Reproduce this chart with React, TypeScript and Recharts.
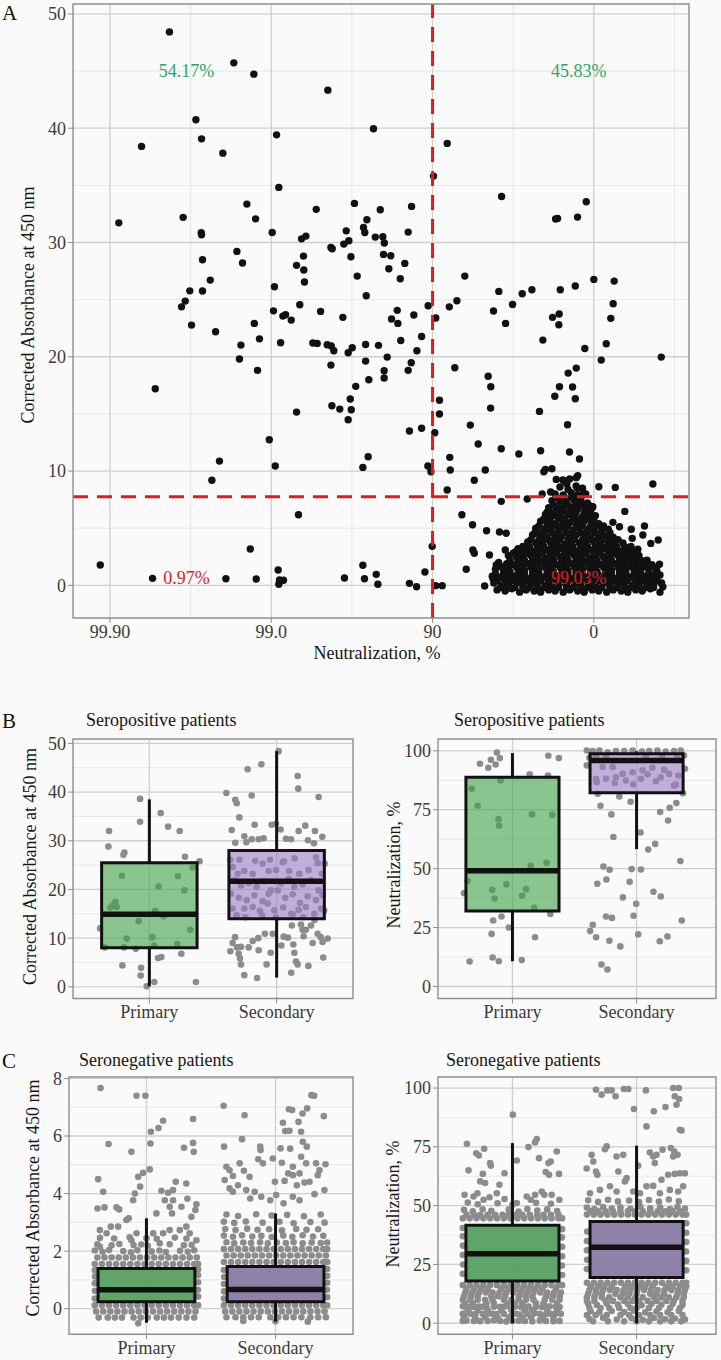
import React from 'react';
import {
  ScatterChart,
  Scatter,
  XAxis,
  YAxis,
  CartesianGrid,
  ReferenceLine,
  ReferenceArea,
  ReferenceDot,
} from 'recharts';

const FONT = "Liberation Serif, DejaVu Serif, serif";
const BG = '#fafafa';
const MAJOR = '#cfcfcf';
const MINOR = '#e2e2e2';
const FRAME = '#8e8e8e';
const TICK_COLOR = '#3a3a3a';
const INK = '#111111';
const GREY_PT = '#8c8c8c';
const CUT_RED = '#e41a1c';
const TXT_GREEN = '#2ba664';
const TXT_RED = '#e41a1c';

// ---------------- Panel A: x = log10(100 - neutralization %), y = corrected absorbance ----------------
const aXTicks = [-1, 0, 1, 2];
const aXTickLabels = ['99.90', '99.0', '90', '0'];
const aXMinor = [-0.5, 0.5, 1.5, 2.5];
const aYTicks = [0, 10, 20, 30, 40, 50];
const aYMinor = [5, 15, 25, 35, 45];
const aXDomain = [-1.229, 2.59];
const aYDomain = [-2.86, 50.87];
const aCutX = 1; // 90 % neutralization
const aCutY = 7.75;
const aQuadrantLabels = ['54.17%', '45.83%', '0.97%', '99.03%'];

const aScattered = [
  -0.631, 48.43, -0.232, 45.72, -0.108, 44.73, 0.351, 43.33, -0.467, 40.74, -0.804, 38.41, -0.432, 39.07,
  -0.3, 37.82, 0.033, 39.42, 0.047, 34.82, -0.945, 31.72, -0.546, 32.2, -0.151, 33.36, -0.097, 32.07,
  -0.434, 30.85, -0.432, 30.67, 0.006, 30.88, 0.279, 32.9, 0.516, 33.42, 0.188, 30.32, 0.215, 30.56,
  0.465, 31.02, 0.481, 30.15, 0.45, 29.86, 0.37, 29.57, 0.378, 29.45, -0.213, 29.22, -0.426, 28.49,
  -0.178, 28.2, 0.2, 28.81, 0.157, 28.0, 0.202, 27.59, 0.494, 28.75, 0.533, 27.06, -0.378, 26.71,
  0.206, 26.54, 0.02, 26.13, -0.505, 25.77, -0.426, 25.75, -0.533, 24.87, -0.556, 24.37, 0.177, 24.55,
  0.014, 24.02, 0.306, 23.97, 0.444, 23.45, 0.072, 23.56, 0.089, 23.68, 0.124, 23.21,
  -0.494, 22.77, -0.345, 22.19, -0.105, 22.92, -0.188, 21.02, -0.073, 21.57, 0.058, 21.23, 0.258, 21.2,
  0.285, 21.17, 0.347, 21.05, 0.372, 20.94, 0.388, 20.53, 0.477, 20.35, 0.502, 20.79, -0.197, 19.8,
  -0.085, 18.81, 0.37, 19.27, -0.719, 17.2, 0.524, 17.41, 0.157, 15.16, 0.376, 15.71, 0.425, 15.42,
  0.49, 16.3, 0.496, 15.36, 0.477, 14.49, -0.012, 12.74, 0.025, 10.44, -0.321, 10.87, -0.368, 9.19,
  0.169, 6.18, -0.13, 3.18, -1.06, 1.78, -0.736, 0.61, -0.281, 0.58, -0.093, 0.55, 0.043, 1.34,
  0.047, 0.09, 0.076, 0.44, 0.051, 0.46, 0.454, 0.64,
  0.634, 39.95, 1.091, 38.67, 1.006, 35.81, 1.428, 34.03, 1.953, 33.56, 1.763, 32.05, 1.775, 32.11,
  1.899, 32.22, 0.676, 32.86, 0.87, 33.16, 0.593, 31.99, 0.572, 31.32, 0.58, 30.88, 0.645, 30.47,
  0.692, 30.5, 0.701, 29.95, 0.849, 30.91, 0.696, 28.96, 0.741, 28.84, 0.828, 28.17, 0.729, 27.7,
  0.8, 26.83, 1.2, 27.06, 0.589, 25.34, 1.411, 25.72, 1.556, 25.51, 1.616, 25.86, 1.792, 25.86,
  1.885, 26.19, 2.0, 26.77, 2.126, 26.62, 2.12, 24.64, 1.151, 24.9, 1.104, 24.37, 0.973, 24.46,
  1.496, 24.58, 0.781, 24.06, 1.378, 24.0, 0.884, 23.65, 0.746, 23.3, 1.02, 23.39, 1.744, 23.45,
  1.785, 23.74, 2.105, 23.36,
  0.785, 22.92, 1.453, 22.92, 1.783, 22.8, 1.684, 21.46, 0.585, 21.08, 0.665, 21.0, 0.803, 21.43,
  0.932, 21.78, 0.719, 19.97, 0.903, 20.52, 0.585, 19.62, 0.868, 19.47, 0.7, 18.77, 0.7, 18.14,
  0.605, 17.99, 0.849, 18.81, 1.944, 20.73, 2.077, 21.14, 2.046, 19.71, 2.418, 19.97, 1.138, 19.04,
  1.891, 19.01, 1.841, 18.57, 1.787, 17.38, 1.868, 17.35, 1.758, 16.54, 1.885, 16.33, 1.043, 16.19,
  1.043, 14.99, 1.345, 18.29, 1.361, 17.38, 1.36, 15.51, 1.663, 15.22, 1.837, 14.05, 1.234, 14.02,
  1.014, 13.35, 0.932, 13.74, 0.857, 13.5, 1.283, 12.36, 1.426, 11.95, 1.535, 11.49, 1.67, 11.78,
  1.849, 11.66, 1.911, 11.05, 0.601, 11.25, 0.568, 10.32, 0.971, 10.44, 0.99, 9.94, 1.107, 11.2,
  1.11, 10.09, 1.327, 10.09, 1.259, 9.19, 1.091, 8.34, 1.426, 7.35, 1.587, 7.55, 1.182, 6.18,
  1.248, 5.3, 1.335, 4.78, 1.415, 4.66, 1.457, 4.55, 0.998, 3.41, 0.568, 1.75, 0.578, 0.58,
  0.651, 0.96, 0.661, 0.09, 0.953, 1.16, 0.857, 0.17, 0.901, -0.12, 1.019, -0.03, 1.06, -0.03,
  1.209, 1.4, 1.259, 2.8, 1.25, 3.09, 1.323, -0.06, 2.031, 8.63, 2.133, 8.57, 2.366, 8.86,
  2.192, 6.47, 2.399, 3.96, 2.353, 3.67, 2.314, 5.19, 2.304, 4.4,
];

const aCluster = [
  1.4, -0.4, 1.45, -0.5, 1.49, -0.3, 1.54, -0.6, 1.58, -0.4, 1.63, -0.5, 1.67, -0.6, 1.72, -0.4, 1.76, -0.5,
  1.81, -0.6, 1.85, -0.4, 1.9, -0.5, 1.94, -0.6, 1.99, -0.4, 2.03, -0.5, 2.08, -0.6, 2.12, -0.4, 2.17, -0.5,
  2.21, -0.6, 2.26, -0.4, 2.3, -0.5, 2.35, -0.3, 2.41, -0.6,
  1.38, 0.2, 1.43, 0.0, 1.47, 0.1, 1.52, 0.2, 1.56, 0.0, 1.61, 0.1, 1.65, 0.2, 1.7, 0.0, 1.74, 0.1, 1.79, 0.2,
  1.83, 0.0, 1.88, 0.1, 1.92, 0.2, 1.97, 0.0, 2.01, 0.1, 2.06, 0.2, 2.1, 0.0, 2.15, 0.1, 2.19, 0.2, 2.24, 0.0,
  2.28, 0.1, 2.33, 0.2, 2.37, 0.0, 2.42, 0.2,
  1.37, 0.8, 1.42, 0.7, 1.46, 0.6, 1.51, 0.8, 1.55, 0.7, 1.6, 0.6, 1.64, 0.8, 1.69, 0.7, 1.73, 0.6, 1.78, 0.8,
  1.82, 0.7, 1.87, 0.6, 1.91, 0.8, 1.96, 0.7, 2.0, 0.6, 2.05, 0.8, 2.09, 0.7, 2.14, 0.6, 2.18, 0.8, 2.23, 0.7,
  2.27, 0.6, 2.32, 0.8, 2.36, 0.7, 2.41, 0.9,
  1.39, 1.4, 1.44, 1.3, 1.48, 1.2, 1.53, 1.4, 1.57, 1.3, 1.62, 1.2, 1.66, 1.4, 1.71, 1.3, 1.75, 1.2, 1.8, 1.4,
  1.84, 1.3, 1.89, 1.2, 1.93, 1.4, 1.98, 1.3, 2.02, 1.2, 2.07, 1.4, 2.11, 1.3, 2.16, 1.2, 2.2, 1.4, 2.25, 1.3,
  2.29, 1.2, 2.34, 1.4, 2.39, 1.3,
  1.41, 2.0, 1.46, 1.9, 1.5, 1.8, 1.55, 2.0, 1.59, 1.9, 1.64, 1.8, 1.68, 2.0, 1.73, 1.9, 1.77, 1.8, 1.82, 2.0,
  1.86, 1.9, 1.91, 1.8, 1.95, 2.0, 2.0, 1.9, 2.04, 1.8, 2.09, 2.0, 2.13, 1.9, 2.18, 1.8, 2.22, 2.0, 2.27, 1.9,
  2.31, 2.1, 2.36, 1.8,
  1.47, 2.6, 1.52, 2.5, 1.56, 2.4, 1.61, 2.6, 1.65, 2.5, 1.7, 2.4, 1.74, 2.6, 1.79, 2.5, 1.83, 2.4, 1.88, 2.6,
  1.92, 2.5, 1.97, 2.4, 2.01, 2.6, 2.06, 2.5, 2.1, 2.4, 2.15, 2.6, 2.19, 2.5, 2.24, 2.4, 2.28, 2.6,
  1.53, 3.2, 1.58, 3.1, 1.62, 3.0, 1.67, 3.2, 1.71, 3.1, 1.76, 3.0, 1.8, 3.2, 1.85, 3.1, 1.89, 3.0, 1.94, 3.2,
  1.98, 3.1, 2.03, 3.0, 2.07, 3.2, 2.12, 3.1, 2.16, 3.0, 2.21, 3.2, 2.25, 3.0,
  1.59, 3.8, 1.64, 3.7, 1.68, 3.6, 1.73, 3.8, 1.77, 3.7, 1.82, 3.6, 1.86, 3.8, 1.91, 3.7, 1.95, 3.6, 2.0, 3.8,
  2.04, 3.7, 2.09, 3.6, 2.13, 3.8, 2.18, 3.7,
  1.62, 4.4, 1.67, 4.3, 1.71, 4.2, 1.76, 4.4, 1.8, 4.3, 1.85, 4.2, 1.89, 4.4, 1.94, 4.3, 1.98, 4.2, 2.03, 4.4,
  2.07, 4.3, 2.12, 4.2,
  1.64, 5.0, 1.69, 4.9, 1.73, 4.8, 1.78, 5.0, 1.82, 4.9, 1.87, 4.8, 1.91, 5.0, 1.96, 4.9, 2.0, 4.8, 2.05, 5.0,
  2.09, 4.9,
  1.67, 5.6, 1.72, 5.5, 1.76, 5.4, 1.81, 5.6, 1.85, 5.5, 1.9, 5.4, 1.94, 5.6, 1.99, 5.5, 2.03, 5.4,
  1.7, 6.2, 1.75, 6.1, 1.79, 6.0, 1.84, 6.2, 1.88, 6.1, 1.93, 6.0, 1.97, 6.2, 2.01, 6.1,
  1.72, 6.8, 1.77, 6.7, 1.81, 6.6, 1.86, 6.8, 1.9, 6.7, 1.95, 6.6, 1.99, 6.8,
  1.74, 7.4, 1.79, 7.3, 1.83, 7.2, 1.88, 7.4, 1.92, 7.3, 1.96, 7.2,
  1.76, 8.0, 1.81, 7.9, 1.86, 8.1, 1.9, 7.9, 1.95, 8.0,
  1.79, 8.6, 1.84, 8.4, 1.89, 8.7, 1.93, 8.5, 1.85, 9.3, 1.9, 9.6, 1.82, 9.1,
  1.68, 7.99, 1.732, 8.16, 1.767, 9.27, 1.808, 9.21, 1.833, 8.86, 1.891, 9.42, 1.899, 8.49, 1.936, 8.05,
  1.994, 6.88, 2.118, 5.51, 2.159, 5.13, 2.232, 4.9, 2.238, 4.11, 2.087, 4.11, 2.273, 3.15, 2.232, 2.45,
  2.304, 1.63, 2.366, 0.75, 2.418, 0.17, 2.407, 1.84, 2.428, -0.12, 1.353, 2.65, 1.395, 1.78, 1.374, 0.61,
  1.451, 3.09, 1.515, 2.94, 1.56, 2.5, 1.632, 4.55, 1.694, 5.71, 1.746, 6.3, 1.69, 9.94, 1.7, 10.15, 1.74, 10.2,
];
// densely overlapping core of the cluster, one row per absorbance level: [absorbance, x1, x2, ...]
const aClusterCoreRows = [
  [-0.2, 1.42, 1.47, 1.51, 1.56, 1.6, 1.65, 1.69, 1.74, 1.78, 1.83, 1.87, 1.92, 1.96, 2.01, 2.05, 2.1, 2.14, 2.19, 2.23, 2.28, 2.32, 2.37],
  [0.4, 1.4, 1.45, 1.49, 1.54, 1.58, 1.63, 1.67, 1.72, 1.76, 1.81, 1.85, 1.9, 1.94, 1.99, 2.03, 2.08, 2.12, 2.17, 2.21, 2.26, 2.3, 2.35, 2.39],
  [1.0, 1.39, 1.44, 1.48, 1.53, 1.57, 1.62, 1.66, 1.71, 1.75, 1.8, 1.84, 1.89, 1.93, 1.98, 2.02, 2.07, 2.11, 2.16, 2.2, 2.25, 2.29, 2.34, 2.38],
  [1.6, 1.43, 1.47, 1.52, 1.56, 1.61, 1.65, 1.7, 1.74, 1.79, 1.83, 1.88, 1.92, 1.97, 2.01, 2.06, 2.1, 2.15, 2.19, 2.24, 2.28, 2.33, 2.37],
  [2.2, 1.48, 1.53, 1.57, 1.62, 1.66, 1.71, 1.75, 1.8, 1.84, 1.89, 1.93, 1.98, 2.02, 2.07, 2.11, 2.16, 2.2, 2.25, 2.29, 2.33],
  [2.8, 1.5, 1.55, 1.59, 1.64, 1.68, 1.73, 1.77, 1.82, 1.86, 1.91, 1.95, 2.0, 2.04, 2.09, 2.13, 2.18, 2.22, 2.27],
  [3.4, 1.56, 1.6, 1.65, 1.69, 1.74, 1.78, 1.83, 1.87, 1.92, 1.96, 2.01, 2.05, 2.1, 2.14, 2.19, 2.23],
  [4.0, 1.61, 1.66, 1.7, 1.75, 1.79, 1.84, 1.88, 1.93, 1.97, 2.02, 2.06, 2.11, 2.15],
  [4.6, 1.65, 1.69, 1.74, 1.78, 1.83, 1.87, 1.92, 1.96, 2.01, 2.05, 2.1],
  [5.2, 1.66, 1.71, 1.75, 1.8, 1.84, 1.89, 1.93, 1.98, 2.02, 2.06],
  [5.8, 1.69, 1.73, 1.78, 1.82, 1.87, 1.91, 1.96, 2.0],
  [6.4, 1.71, 1.76, 1.8, 1.85, 1.89, 1.94, 1.98],
  [7.0, 1.75, 1.8, 1.84, 1.89, 1.93, 1.97],
  [7.6, 1.78, 1.83, 1.87, 1.92],
];

// ---------------- Panels B and C: x = group (1 Primary, 2 Secondary, jittered) ----------------
const groups = ['Primary', 'Secondary'];
const groupPos = [1, 2];

// B left: seropositive, corrected absorbance
const bAbsTicks = [0, 10, 20, 30, 40, 50];
const bAbsMinor = [5, 15, 25, 35, 45];
const bAbsPrimary = [
  0.927, 38.6, 0.683, 32.0, 0.678, 28.8, 0.804, 27.6, 0.796, 27.1, 0.927, 33.9, 1.089, 35.7, 1.147, 32.9,
  1.238, 32.0, 1.28, 26.7, 1.395, 25.8, 1.34, 24.5, 0.785, 22.8, 1.225, 22.7, 1.073, 20.6, 1.275, 19.8,
  0.733, 17.4, 0.712, 16.7, 0.743, 16.4, 0.694, 16.3, 1.045, 15.6, 1.113, 14.5, 0.916, 13.5, 0.613, 12.0,
  1.322, 11.7, 0.822, 9.9, 1.024, 10.2, 1.037, 8.5, 1.22, 8.8, 0.649, 8.1, 0.801, 8.1, 0.893, 7.8,
  1.251, 6.8, 1.068, 5.9, 1.094, 6.1, 0.788, 4.4, 0.935, 3.9, 0.932, 2.3, 1.039, 1.0, 0.979, 0.1, 1.366, 1.0,
];
const bAbsSecondary = [
  2.016, 48.4, 1.88, 45.7, 1.772, 44.7, 2.165, 43.3, 2.17, 40.7, 1.605, 39.8, 1.675, 38.4, 1.686, 37.7,
  1.804, 39.3, 2.33, 39.0, 1.707, 34.8, 1.827, 33.3, 1.961, 33.3, 1.995, 33.5, 2.225, 33.1, 1.647, 32.2,
  2.031, 32.3, 2.173, 32.0, 2.301, 32.0, 1.746, 30.9, 1.804, 30.3, 1.859, 30.3, 1.898, 30.5, 2.113, 30.3,
  2.073, 30.4, 2.359, 30.8, 1.675, 29.6, 1.762, 29.7, 2.246, 30.1, 2.293, 29.5, 1.636, 26.1, 1.707, 26.1,
  1.832, 25.9, 1.948, 26.1, 2.058, 25.8, 2.141, 26.4, 2.309, 26.6, 2.377, 25.3,
  1.654, 24.6, 1.694, 23.2, 1.746, 23.8, 1.812, 23.2, 1.89, 25.3, 1.937, 23.8, 1.995, 24.0, 2.047, 25.6,
  2.099, 23.8, 2.178, 23.2, 2.251, 24.0, 2.322, 25.4, 2.356, 23.2, 1.668, 21.9, 1.72, 20.8, 1.78, 21.3,
  1.843, 20.5, 1.903, 21.7, 1.955, 19.8, 2.034, 21.2, 2.094, 22.2, 2.139, 20.5, 2.204, 21.0, 2.27, 21.9,
  2.33, 19.8, 1.641, 19.1, 1.702, 18.3, 1.764, 17.8, 1.825, 18.8, 1.89, 17.6, 1.937, 19.1, 2.01, 19.8,
  2.068, 18.3, 2.126, 19.0, 2.183, 17.2, 2.243, 18.6, 2.309, 17.8, 2.361, 18.8, 1.654, 16.1, 1.746, 16.1,
  1.812, 16.4, 1.869, 15.6, 1.929, 17.1, 1.982, 15.7, 2.052, 16.3, 2.115, 15.0, 2.173, 15.8, 2.23, 16.4,
  2.296, 15.0, 2.348, 16.1, 1.686, 14.7, 1.754, 14.3, 1.885, 14.7, 1.995, 14.3, 2.126, 14.9, 2.209, 14.3,
  2.374, 15.7,
  1.673, 10.2, 1.654, 9.0, 1.636, 7.3, 1.688, 8.1, 1.72, 8.2, 1.702, 6.8, 1.712, 5.8, 1.72, 4.6, 1.746, 2.4,
  1.78, 8.1, 1.812, 9.4, 1.856, 10.0, 1.859, 7.5, 1.908, 10.9, 1.921, 4.6, 1.953, 7.0, 1.969, 10.9,
  2.037, 8.5, 2.055, 10.3, 2.089, 10.1, 2.12, 12.6, 2.131, 8.7, 2.139, 7.0, 2.152, 5.2, 2.165, 4.6,
  2.191, 12.8, 2.204, 11.7, 2.212, 10.4, 2.23, 11.7, 2.249, 4.3, 2.27, 12.6, 2.298, 13.7, 2.283, 9.0,
  2.322, 10.9, 2.361, 9.2, 2.366, 6.0, 2.401, 9.9, 2.115, 2.9, 1.846, 1.8, 2.346, 10.2,
];
// [min, q1, median, q3, max]
const bAbsPrimaryBox = [0.1, 8.0, 14.9, 25.5, 38.5];
const bAbsSecondaryBox = [1.9, 14.0, 21.7, 28.0, 48.4];

// B right: seropositive, neutralization %
const pctTicks = [0, 25, 50, 75, 100];
const pctMinor = [12.5, 37.5, 62.5, 87.5];
const bNeuPrimary = [
  0.874, 99.3, 0.826, 96.2, 0.898, 96.9, 0.864, 94.2, 0.738, 94.5, 0.805, 92.8, 1.289, 97.9, 1.374, 96.9,
  1.139, 90.0, 1.286, 89.5, 0.904, 87.4, 0.671, 83.9, 0.719, 76.7, 0.888, 71.0, 0.893, 68.2, 1.158, 73.0,
  1.321, 72.8, 1.147, 51.2, 1.275, 52.5, 0.639, 44.7, 0.61, 39.6, 0.837, 41.0, 0.856, 37.3, 0.952, 43.3,
  1.11, 41.3, 1.078, 38.5, 1.174, 33.4, 1.305, 30.8, 0.912, 29.7, 0.845, 28.0, 0.971, 25.0, 0.832, 22.3,
  1.182, 20.9, 0.84, 12.3, 0.89, 10.7, 1.075, 11.2, 0.655, 10.6,
];
const bNeuSecondary = [
  1.599, 100.1, 1.647, 99.9, 1.701, 100.1, 1.767, 99.4, 1.834, 99.9, 1.901, 99.9, 1.968, 100.1, 2.043, 99.7,
  2.102, 99.9, 2.168, 100.1, 2.235, 99.7, 2.302, 99.9, 2.356, 100.1, 2.382, 98.0, 1.62, 97.0, 1.674, 98.0,
  1.754, 97.3, 2.075, 97.6, 2.206, 97.3, 2.326, 97.6, 1.599, 93.8, 2.39, 92.4,
  1.674, 88.1, 1.727, 93.1, 1.807, 93.1, 1.834, 88.8, 1.888, 90.2, 1.968, 90.9, 2.048, 91.7, 2.128, 92.8,
  2.195, 88.8, 2.262, 90.2, 2.337, 89.5, 2.302, 85.3, 1.679, 86.7, 1.914, 87.4, 2.035, 88.1, 2.155, 87.1,
  1.754, 88.1, 2.088, 90.0, 2.222, 91.9, 1.824, 86.3, 1.973, 85.7, 2.316, 85.7,
  1.687, 81.8, 1.861, 80.6, 2.374, 82.0, 1.709, 76.7, 1.797, 73.0, 1.813, 63.4, 1.952, 78.4, 2.032, 65.3,
  2.267, 75.8, 2.19, 74.0, 2.321, 77.8, 2.254, 70.4, 2.15, 60.5, 2.094, 58.1, 2.353, 53.2, 1.733, 50.9,
  1.783, 49.5, 1.96, 49.8, 2.035, 49.6, 1.757, 45.4, 1.684, 43.6, 1.944, 44.4, 2.136, 40.2, 2.195, 38.2,
  1.89, 37.8, 1.997, 35.1, 1.754, 29.7, 1.802, 29.1, 1.976, 30.0, 2.364, 28.0, 1.647, 26.2, 1.626, 23.5,
  1.674, 20.9, 1.781, 19.4, 1.869, 17.0, 2.013, 22.1, 2.187, 19.2, 2.249, 21.2, 1.717, 9.3, 1.765, 7.2,
];
const bNeuPrimaryBox = [10.7, 32.0, 49.1, 88.8, 99.0];
const bNeuSecondaryBox = [58.3, 82.2, 95.9, 98.7, 99.8];

// C left: seronegative, corrected absorbance
const cAbsTicks = [0, 2, 4, 6, 8];
const cAbsMinor = [1, 3, 5, 7];
const cAbsPrimary = [
  0.644, 7.67, 0.923, 7.4, 0.992, 7.4, 0.706, 5.72, 1.034, 6.15, 1.031, 5.74, 0.884, 5.45, 1.093, 6.28,
  1.129, 6.53, 1.361, 6.59, 1.291, 5.59, 1.361, 5.76, 1.366, 5.45, 0.626, 4.5, 0.665, 4.06, 0.621, 3.48,
  0.675, 3.52, 0.768, 3.52, 0.789, 3.45, 0.863, 3.14, 0.897, 3.77, 0.91, 4.0, 0.951, 4.24, 0.936, 4.58,
  0.974, 4.72, 1.026, 4.84, 1.116, 4.1, 1.142, 3.77, 1.168, 4.03, 1.206, 4.12, 1.227, 4.41, 1.206, 3.77,
  1.18, 3.54, 1.309, 4.35, 1.317, 3.82, 1.387, 3.63, 1.379, 3.43, 1.348, 3.19, 1.077, 3.31, 1.271, 3.54,
  1.198, 3.31, 0.724, 2.85, 0.781, 2.85, 0.639, 2.73, 0.691, 2.62, 1.18, 2.73, 1.258, 2.73, 1.309, 2.85,
  1.335, 2.62, 1.387, 2.38, 1.129, 2.62, 1.052, 2.62, 0.845, 3.08, 0.923, 2.62, 0.639, 2.15, 0.884, 2.38,
  1.103, 2.27,
  0.6, 2.02, 0.66, 1.98, 0.71, 2.04, 0.82, 2.0, 0.88, 1.96, 0.93, 2.03, 1.04, 1.99, 1.1, 2.02, 1.15, 1.97,
  1.26, 2.01, 1.32, 1.98, 1.37, 2.03, 0.62, 2.24, 0.73, 2.2, 0.79, 2.25, 0.9, 2.21, 0.96, 2.23, 1.01, 2.19,
  1.18, 2.24, 1.29, 2.2, 1.35, 2.22, 0.64, 2.46, 0.75, 2.44, 0.87, 2.48, 1.0, 2.45, 1.08, 2.43, 1.22, 2.47,
  1.31, 2.44, 0.936, -0.51, 0.6, 0.35, 0.601, 0.62, 0.6, 0.88, 0.602, 1.12, 0.6, 1.33, 1.4, 0.42,
  1.398, 0.66, 1.4, 0.92, 1.399, 1.16, 1.4, 1.36,
];
const cAbsPrimaryRows = [
  [0.12, 0.6, 0.655, 0.71, 0.765, 0.82, 0.875, 0.93, 0.985, 1.04, 1.095, 1.15, 1.205, 1.26, 1.315, 1.37, 1.4],
  [-0.1, 0.61, 0.665, 0.72, 0.775, 0.83, 0.885, 0.94, 0.995, 1.05, 1.105, 1.16, 1.215, 1.27, 1.325, 1.38],
  [-0.31, 0.63, 0.7, 0.755, 0.81, 0.9, 0.955, 1.01, 1.08, 1.135, 1.19, 1.25, 1.31, 1.37],
  [1.55, 0.6, 0.655, 0.71, 0.765, 0.82, 0.875, 0.93, 0.985, 1.04, 1.095, 1.15, 1.205, 1.26, 1.315, 1.37, 1.4],
  [1.78, 0.62, 0.675, 0.73, 0.785, 0.84, 0.895, 0.95, 1.005, 1.06, 1.115, 1.17, 1.225, 1.28, 1.335, 1.39],
];
const cAbsSecondary = [
  1.598, 7.05, 2.103, 6.93, 2.129, 6.9, 1.76, 6.72, 2.278, 7.42, 2.299, 7.4, 2.374, 6.69, 1.74, 5.89,
  2.057, 6.46, 2.075, 6.17, 2.108, 6.18, 2.198, 6.15, 2.178, 6.49, 2.245, 6.96, 2.209, 6.78, 1.881, 5.63,
  1.884, 5.51, 2.039, 5.57, 2.113, 5.56, 2.211, 5.8, 2.242, 5.63, 1.979, 5.22, 1.866, 5.19, 1.902, 5.05,
  2.049, 5.07, 2.134, 4.93, 2.198, 5.28, 2.237, 5.05, 2.314, 5.05, 2.387, 5.02, 1.601, 5.63, 1.619, 4.93,
  1.644, 4.81, 1.67, 4.61, 1.722, 5.05, 1.755, 4.79, 1.799, 4.58, 1.606, 4.47, 1.644, 4.18, 1.67, 4.06,
  1.709, 4.29, 1.773, 4.12, 1.804, 3.83, 1.838, 4.06, 1.889, 3.89, 1.995, 4.41, 2.07, 4.44, 2.098, 4.7,
  2.134, 4.64, 2.186, 4.7, 2.165, 4.29, 2.224, 4.38, 2.263, 4.41, 2.327, 4.64, 2.34, 4.81, 2.379, 4.12,
  2.302, 3.98, 2.186, 3.77, 2.134, 3.89, 2.062, 3.66, 2.005, 3.95, 1.959, 3.77,
  1.62, 3.27, 1.71, 3.22, 1.85, 3.28, 1.97, 3.24, 2.09, 3.26, 2.22, 3.21, 2.35, 3.27,
  1.6, 3.02, 1.68, 2.98, 1.77, 3.03, 1.9, 2.99, 2.03, 3.02, 2.14, 2.97, 2.27, 3.01, 2.38, 2.99,
  1.61, 2.77, 1.69, 2.73, 1.78, 2.78, 1.86, 2.74, 1.95, 2.76, 2.05, 2.72, 2.16, 2.77, 2.24, 2.74, 2.33, 2.76,
  1.6, 2.54, 1.67, 2.5, 1.74, 2.55, 1.82, 2.51, 1.89, 2.53, 1.97, 2.49, 2.06, 2.54, 2.13, 2.5, 2.21, 2.55,
  2.29, 2.51, 2.37, 2.53,
  1.62, 2.31, 1.68, 2.27, 1.75, 2.3, 1.81, 2.28, 1.88, 2.31, 1.94, 2.27, 2.01, 2.3, 2.08, 2.28, 2.14, 2.31,
  2.21, 2.27, 2.28, 2.3, 2.35, 2.28, 2.4, 2.3,
  1.6, 0.35, 1.601, 0.6, 1.6, 0.86, 1.602, 1.1, 1.6, 1.34, 2.4, 0.4, 2.398, 0.66, 2.4, 0.9, 2.399, 1.14,
  2.4, 1.38, 2.0, -0.44, 1.75, -0.43, 2.25, -0.45,
];
const cAbsSecondaryRows = [
  [0.12, 1.6, 1.655, 1.71, 1.765, 1.82, 1.875, 1.93, 1.985, 2.04, 2.095, 2.15, 2.205, 2.26, 2.315, 2.37, 2.4],
  [-0.1, 1.61, 1.665, 1.72, 1.775, 1.83, 1.885, 1.94, 1.995, 2.05, 2.105, 2.16, 2.215, 2.27, 2.325, 2.38],
  [-0.3, 1.62, 1.69, 1.75, 1.81, 1.87, 1.96, 2.02, 2.08, 2.14, 2.2, 2.27, 2.33, 2.39],
  [1.62, 1.6, 1.655, 1.71, 1.765, 1.82, 1.875, 1.93, 1.985, 2.04, 2.095, 2.15, 2.205, 2.26, 2.315, 2.37, 2.4],
  [1.85, 1.62, 1.675, 1.73, 1.785, 1.84, 1.895, 1.95, 2.005, 2.06, 2.115, 2.17, 2.225, 2.28, 2.335, 2.39],
  [2.07, 1.6, 1.655, 1.71, 1.765, 1.82, 1.875, 1.93, 1.985, 2.04, 2.095, 2.15, 2.205, 2.26, 2.315, 2.37, 2.4],
];
const cAbsPrimaryBox = [-0.49, 0.24, 0.66, 1.4, 3.14];
const cAbsSecondaryBox = [-0.45, 0.24, 0.67, 1.47, 3.31];

// C right: seronegative, neutralization %
const cNeuPrimary = [
  0.633, 76.3, 0.708, 72.3, 0.729, 71.3, 0.772, 74.2, 0.646, 65.0, 0.82, 68.1, 0.826, 67.0, 0.761, 63.5,
  0.936, 63.8, 1.035, 69.2, 1.129, 74.9, 1.196, 78.3, 1.182, 76.9, 1.214, 70.2, 1.29, 68.1, 1.308, 68.8,
  1.357, 73.0, 1.375, 63.5, 1.268, 64.3, 1.295, 63.1, 1.003, 88.7, 0.74, 60.3, 0.78, 59.6, 0.895, 58.9,
  0.614, 54.6, 0.686, 53.9, 0.718, 55.3, 0.767, 52.5, 0.815, 53.6, 0.874, 55.3, 1.115, 53.9, 1.147, 52.5,
  1.182, 54.6, 1.236, 56.0, 1.257, 54.6, 1.316, 54.6, 1.378, 52.5, 1.035, 51.1, 0.936, 52.8,
  0.61, 48.2, 0.68, 47.6, 0.76, 48.5, 0.83, 47.8, 0.97, 48.3, 1.05, 47.5, 1.12, 48.6, 1.2, 47.9, 1.28, 48.4,
  1.36, 47.7, 0.64, 51.3, 0.72, 50.6, 0.88, 51.0, 1.0, 50.4, 1.19, 51.2, 1.31, 50.8,
  0.6, 7.2, 0.66, 6.8, 0.73, 7.1, 0.79, 6.9, 0.9, 7.0, 0.96, 7.3, 1.07, 6.8, 1.13, 7.1, 1.24, 6.9, 1.3, 7.2,
  1.38, 6.9, 0.62, 4.1, 0.7, 3.8, 0.81, 4.2, 0.87, 3.9, 1.0, 4.0, 1.06, 3.7, 1.18, 4.2, 1.27, 3.9, 1.35, 4.1,
  0.63, 1.2, 0.74, 0.9, 0.85, 1.3, 0.95, 0.7, 1.05, 1.1, 1.16, 0.8, 1.22, 1.2, 1.33, 0.9,
  0.6, 21, 0.602, 25, 0.6, 29, 0.601, 33, 0.6, 37, 0.6, 40.5, 1.4, 20.5, 1.399, 24.5, 1.4, 28.5, 1.4, 32.5,
  1.398, 36.5, 1.4, 40,
];
const cNeuPrimaryRows = [
  [16.2, 0.6, 0.655, 0.71, 0.765, 0.82, 0.875, 0.93, 0.985, 1.04, 1.095, 1.15, 1.205, 1.26, 1.315, 1.37, 1.4],
  [14.6, 0.63, 0.69, 0.745, 0.8, 0.91, 0.965, 1.02, 1.075, 1.13, 1.185, 1.24, 1.35],
  [13.1, 0.62, 0.675, 0.73, 0.785, 0.84, 0.895, 0.95, 1.005, 1.06, 1.115, 1.17, 1.225, 1.28, 1.335, 1.39],
  [11.5, 0.61, 0.665, 0.72, 0.83, 0.885, 0.94, 1.05, 1.105, 1.16, 1.27, 1.325, 1.38],
  [10.0, 0.6, 0.66, 0.72, 0.78, 0.84, 0.93, 0.99, 1.05, 1.11, 1.17, 1.26, 1.32, 1.38],
  [8.5, 0.62, 0.68, 0.79, 0.85, 0.96, 1.02, 1.08, 1.19, 1.25, 1.36],
  [7.0, 0.63, 0.69, 0.76, 0.85, 0.93, 1.02, 1.1, 1.19, 1.27, 1.35],
  [5.5, 0.64, 0.72, 0.8, 0.91, 0.99, 1.1, 1.16, 1.28, 1.36],
  [4.0, 0.6, 0.66, 0.76, 0.84, 0.93, 1.03, 1.12, 1.22, 1.31, 1.39],
  [2.5, 0.61, 0.7, 0.78, 0.88, 0.97, 1.08, 1.15, 1.24, 1.33],
  [1.0, 0.6, 0.69, 0.8, 0.9, 1.0, 1.1, 1.27, 1.38],
  [44.6, 0.6, 0.655, 0.71, 0.765, 0.82, 0.875, 0.93, 0.985, 1.04, 1.095, 1.15, 1.205, 1.26, 1.315, 1.37, 1.4],
  [46.1, 0.63, 0.69, 0.74, 0.8, 0.86, 0.92, 0.97, 1.03, 1.08, 1.14, 1.2, 1.25, 1.31, 1.37],
];
const cNeuSecondary = [
  1.673, 99.3, 1.718, 97.2, 1.764, 99.0, 1.799, 99.0, 1.831, 96.5, 1.898, 99.6, 1.933, 99.6, 2.075, 99.0,
  2.295, 100, 2.34, 100, 2.308, 96.5, 2.343, 95.3, 2.322, 92.9, 2.233, 91.9, 2.139, 90.1, 1.979, 91.1,
  2.08, 83.7, 2.349, 82.3, 2.362, 82.0, 1.759, 75.2, 1.745, 74.0, 1.638, 71.6, 1.651, 68.8, 1.598, 65.8,
  1.673, 64.5, 1.684, 63.1, 1.839, 70.9, 1.893, 71.6, 1.853, 64.5, 1.92, 61.7, 1.906, 60.3, 2.013, 67.0,
  2.107, 72.6, 2.134, 70.9, 2.161, 71.6, 2.147, 68.1, 2.209, 73.8, 2.276, 74.5, 2.303, 73.0, 2.33, 71.6,
  2.295, 70.9, 2.389, 63.8, 2.255, 63.1, 2.308, 63.5, 2.349, 63.8, 2.201, 61.0, 2.134, 58.4, 2.08, 58.2,
  2.375, 58.2, 1.625, 55.3, 1.705, 56.7, 1.786, 58.2, 1.839, 56.0, 1.973, 56.0, 2.027, 55.3, 2.188, 55.3,
  2.268, 56.7, 2.335, 56.0,
  1.61, 52.3, 1.69, 51.6, 1.77, 52.5, 1.85, 51.8, 1.94, 52.2, 2.02, 51.5, 2.1, 52.4, 2.18, 51.7, 2.26, 52.6,
  2.34, 51.9, 1.6, 49.2, 1.66, 48.6, 1.73, 49.4, 1.8, 48.8, 1.87, 49.3, 1.95, 48.7, 2.03, 49.5, 2.11, 48.9,
  2.19, 49.2, 2.27, 48.6, 2.33, 49.4, 2.39, 48.8,
  1.61, 8.3, 1.68, 7.8, 1.76, 8.4, 1.85, 7.9, 1.93, 8.2, 2.04, 7.7, 2.12, 8.3, 2.2, 7.9, 2.29, 8.2, 2.37, 7.8,
  1.63, 5.1, 1.7, 4.7, 1.8, 5.2, 1.9, 4.8, 1.98, 5.3, 2.07, 4.6, 2.16, 5.0, 2.25, 4.7, 2.34, 5.2,
  1.62, 1.8, 1.73, 2.3, 1.84, 1.6, 1.96, 2.1, 2.05, 1.5, 2.14, 2.2, 2.23, 1.7, 2.31, 2.0, 2.39, 1.6,
  1.6, 23, 1.601, 27, 1.6, 31, 1.6, 35, 1.602, 39, 2.4, 22.5, 2.4, 26.5, 2.399, 30.5, 2.4, 34.5, 2.4, 38.5,
  2.4, 42.5,
];
const cNeuSecondaryRows = [
  [17.2, 1.6, 1.655, 1.71, 1.765, 1.82, 1.875, 1.93, 1.985, 2.04, 2.095, 2.15, 2.205, 2.26, 2.315, 2.37, 2.4],
  [15.6, 1.63, 1.69, 1.74, 1.8, 1.91, 1.96, 2.02, 2.07, 2.13, 2.24, 2.29, 2.35, 2.4],
  [14.1, 1.62, 1.675, 1.73, 1.785, 1.84, 1.895, 1.95, 2.005, 2.06, 2.115, 2.17, 2.225, 2.28, 2.335, 2.39],
  [12.5, 1.61, 1.67, 1.72, 1.83, 1.89, 1.94, 2.0, 2.11, 2.16, 2.22, 2.33, 2.38],
  [11.0, 1.6, 1.66, 1.72, 1.78, 1.87, 1.93, 1.99, 2.05, 2.14, 2.2, 2.26, 2.32, 2.38],
  [9.5, 1.6, 1.66, 1.75, 1.81, 1.9, 1.97, 2.02, 2.09, 2.16, 2.24, 2.3, 2.37],
  [6.5, 1.62, 1.71, 1.78, 1.86, 1.95, 2.0, 2.1, 2.18, 2.27, 2.35],
  [3.5, 1.6, 1.67, 1.76, 1.87, 1.94, 2.02, 2.11, 2.19, 2.28, 2.37],
  [0.8, 1.65, 1.77, 1.9, 2.0, 2.1, 2.19, 2.28, 2.36],
  [46.2, 1.6, 1.655, 1.71, 1.765, 1.82, 1.875, 1.93, 1.985, 2.04, 2.095, 2.15, 2.205, 2.26, 2.315, 2.37, 2.4],
  [47.6, 1.63, 1.69, 1.75, 1.81, 1.87, 1.93, 1.99, 2.05, 2.11, 2.17, 2.23, 2.29, 2.35],
];
const cNeuPrimaryBox = [0, 18.0, 29.5, 41.7, 76.6];
const cNeuSecondaryBox = [0, 19.4, 32.3, 43.3, 75.5];

// ---------------- helpers ----------------
const toXY = (flat: number[]) => {
  const out: { x: number; y: number }[] = [];
  for (let i = 0; i + 1 < flat.length; i += 2) out.push({ x: flat[i], y: flat[i + 1] });
  return out;
};
const rowsToXY = (rows: number[][]) =>
  rows.flatMap((row) => row.slice(1).map((x) => ({ x, y: row[0] })));

const dotShape = (r: number, fill: string) => (p: any) =>
  p && Number.isFinite(p.cx) && Number.isFinite(p.cy) ? (
    <circle cx={p.cx} cy={p.cy} r={r} fill={fill} />
  ) : (
    <g />
  );

const tickStyle = { fontFamily: FONT, fontSize: 18, fill: TICK_COLOR, style: { fontFamily: FONT } };

// ---------------- Panel A ----------------
function PanelA() {
  const pts = toXY(aScattered).concat(toXY(aCluster), rowsToXY(aClusterCoreRows));
  return (
    <div style={{ position: 'absolute', left: 0, top: 0 }}>
      <ScatterChart width={721} height={660} margin={{ top: 4, right: 32, bottom: 0, left: 0 }}>
        <CartesianGrid stroke={MINOR} strokeWidth={0.8} verticalValues={aXMinor} horizontalValues={aYMinor} />
        <CartesianGrid stroke={MAJOR} strokeWidth={1.3} verticalValues={aXTicks} horizontalValues={aYTicks} />
        <XAxis
          type="number"
          dataKey="x"
          domain={aXDomain}
          ticks={aXTicks}
          interval={0}
          allowDataOverflow
          tickFormatter={(v: number) => aXTickLabels[aXTicks.indexOf(v)] ?? ''}
          height={42}
          axisLine={false}
          tickLine={{ stroke: FRAME }}
          tickSize={5}
          tickMargin={2}
          tick={tickStyle}
        />
        <YAxis
          type="number"
          dataKey="y"
          domain={aYDomain}
          ticks={aYTicks}
          interval={0}
          allowDataOverflow
          width={73}
          axisLine={false}
          tickLine={{ stroke: FRAME }}
          tickSize={5}
          tickMargin={2}
          tick={tickStyle}
        />
        <Scatter data={pts} shape={dotShape(3.7, INK)} isAnimationActive={false} />
        <ReferenceLine x={aCutX} stroke={CUT_RED} strokeWidth={3} strokeDasharray="15 9" zIndex={700} />
        <ReferenceLine y={aCutY} stroke={CUT_RED} strokeWidth={3} strokeDasharray="15 9" zIndex={700} />
        <ReferenceDot x={-0.525} y={45} r={0} fill="none" stroke="none" zIndex={800}
          label={{ value: aQuadrantLabels[0], position: 'center', fill: TXT_GREEN, fontSize: 18, fontFamily: FONT }} />
        <ReferenceDot x={1.906} y={45} r={0} fill="none" stroke="none" zIndex={800}
          label={{ value: aQuadrantLabels[1], position: 'center', fill: TXT_GREEN, fontSize: 18, fontFamily: FONT }} />
        <ReferenceDot x={-0.525} y={0.66} r={0} fill="none" stroke="none" zIndex={800}
          label={{ value: aQuadrantLabels[2], position: 'center', fill: TXT_RED, fontSize: 18, fontFamily: FONT }} />
        <ReferenceDot x={1.906} y={0.66} r={0} fill="none" stroke="none" zIndex={800}
          label={{ value: aQuadrantLabels[3], position: 'center', fill: TXT_RED, fontSize: 18, fontFamily: FONT }} />
        <ReferenceArea x1={aXDomain[0]} x2={aXDomain[1]} y1={aYDomain[0]} y2={aYDomain[1]}
          fill="none" fillOpacity={0} stroke={FRAME} strokeWidth={1.4} zIndex={900} />
      </ScatterChart>
    </div>
  );
}

// ---------------- Box panels ----------------
type BoxPanelProps = {
  left: number;
  top: number;
  width: number;
  height: number;
  xDomain: number[];
  yDomain: number[];
  yTicks: number[];
  yMinor: number[];
  primary: { x: number; y: number }[];
  secondary: { x: number; y: number }[];
  boxes: number[][];
  fills: string[];
  fillOpacity: number;
};

function BoxPanel(props: BoxPanelProps) {
  const { left, top, width, height, xDomain, yDomain, yTicks, yMinor, primary, secondary, boxes, fills, fillOpacity } = props;
  const YW = 62;
  const MT = 14;
  const MR = 6;
  const XH = 40;
  const half = 0.375;
  return (
    <div style={{ position: 'absolute', left: left - YW, top: top - MT }}>
      <ScatterChart width={YW + width + MR} height={MT + height + XH} margin={{ top: MT, right: MR, bottom: 0, left: 0 }}>
        <CartesianGrid stroke={MINOR} strokeWidth={0.8} vertical={false} horizontalValues={yMinor} />
        <CartesianGrid stroke={MAJOR} strokeWidth={1.3} verticalValues={groupPos} horizontalValues={yTicks} />
        <XAxis
          type="number"
          dataKey="x"
          domain={xDomain}
          ticks={groupPos}
          interval={0}
          allowDataOverflow
          tickFormatter={(v: number) => groups[v - 1] ?? ''}
          height={XH}
          axisLine={false}
          tickLine={{ stroke: FRAME }}
          tickSize={5}
          tickMargin={2}
          tick={tickStyle}
        />
        <YAxis
          type="number"
          dataKey="y"
          domain={yDomain}
          ticks={yTicks}
          interval={0}
          allowDataOverflow
          width={YW}
          axisLine={false}
          tickLine={{ stroke: FRAME }}
          tickSize={5}
          tickMargin={2}
          tick={tickStyle}
        />
        <Scatter data={primary} shape={dotShape(3.3, GREY_PT)} isAnimationActive={false} />
        <Scatter data={secondary} shape={dotShape(3.3, GREY_PT)} isAnimationActive={false} />
        {boxes.map((b, i) => {
          const c = groupPos[i];
          return (
            <React.Fragment key={i}>
              <ReferenceLine segment={[{ x: c, y: b[3] }, { x: c, y: b[4] }]} stroke={INK} strokeWidth={3} zIndex={700} />
              <ReferenceLine segment={[{ x: c, y: b[0] }, { x: c, y: b[1] }]} stroke={INK} strokeWidth={3} zIndex={700} />
              <ReferenceArea x1={c - half} x2={c + half} y1={b[1]} y2={b[3]} fill={fills[i]} fillOpacity={fillOpacity}
                stroke={INK} strokeWidth={3} zIndex={750} />
              <ReferenceLine segment={[{ x: c - half, y: b[2] }, { x: c + half, y: b[2] }]} stroke={INK} strokeWidth={5.5} zIndex={760} />
            </React.Fragment>
          );
        })}
        <ReferenceArea x1={xDomain[0]} x2={xDomain[1]} y1={yDomain[0]} y2={yDomain[1]}
          fill="none" fillOpacity={0} stroke={FRAME} strokeWidth={1.4} zIndex={900} />
      </ScatterChart>
    </div>
  );
}

const titleStyle = { fontFamily: FONT, fontSize: 18, fill: '#151515', style: { fontFamily: FONT } } as const;

export default function App() {
  return (
    <div style={{ position: 'absolute', left: 0, top: 0, width: 721, height: 1360, background: BG, overflow: 'hidden', fontFamily: FONT }}>
      <PanelA />
      <BoxPanel
        left={73} top={738.5} width={280} height={259.5}
        xDomain={[0.4, 2.6]} yDomain={[-2.4, 50.9]} yTicks={bAbsTicks} yMinor={bAbsMinor}
        primary={toXY(bAbsPrimary)} secondary={toXY(bAbsSecondary)}
        boxes={[bAbsPrimaryBox, bAbsSecondaryBox]} fills={['#3fa046', '#9b7bc4']} fillOpacity={0.6}
      />
      <BoxPanel
        left={438} top={738.5} width={278} height={259.5}
        xDomain={[0.4, 2.64]} yDomain={[-5.1, 105]} yTicks={pctTicks} yMinor={pctMinor}
        primary={toXY(bNeuPrimary)} secondary={toXY(bNeuSecondary)}
        boxes={[bNeuPrimaryBox, bNeuSecondaryBox]} fills={['#3fa046', '#9b7bc4']} fillOpacity={0.6}
      />
      <BoxPanel
        left={68.5} top={1077} width={284} height={257.3}
        xDomain={[0.4, 2.6]} yDomain={[-0.89, 8.05]} yTicks={cAbsTicks} yMinor={cAbsMinor}
        primary={toXY(cAbsPrimary).concat(rowsToXY(cAbsPrimaryRows))}
        secondary={toXY(cAbsSecondary).concat(rowsToXY(cAbsSecondaryRows))}
        boxes={[cAbsPrimaryBox, cAbsSecondaryBox]} fills={['#55a05f', '#8a7aa4']} fillOpacity={0.95}
      />
      <BoxPanel
        left={438} top={1077} width={278} height={257.3}
        xDomain={[0.4, 2.64]} yDomain={[-4.7, 104.7]} yTicks={pctTicks} yMinor={pctMinor}
        primary={toXY(cNeuPrimary).concat(rowsToXY(cNeuPrimaryRows))}
        secondary={toXY(cNeuSecondary).concat(rowsToXY(cNeuSecondaryRows))}
        boxes={[cNeuPrimaryBox, cNeuSecondaryBox]} fills={['#55a05f', '#8a7aa4']} fillOpacity={0.95}
      />
      <svg width={721} height={1360} style={{ position: 'absolute', left: 0, top: 0, pointerEvents: 'none' }}>
        <text x={2} y={20} fontFamily={FONT} fontSize={21} fill="#111">A</text>
        <text x={2} y={728} fontFamily={FONT} fontSize={21} fill="#111">B</text>
        <text x={2} y={1068} fontFamily={FONT} fontSize={21} fill="#111">C</text>
        <text transform="translate(28,305) rotate(-90)" textAnchor="middle" dominantBaseline="central" {...titleStyle}>
          Corrected Absorbance at 450 nm
        </text>
        <text x={377} y={659} textAnchor="middle" {...titleStyle}>Neutralization, %</text>
        <text x={86} y={726} {...titleStyle}>Seropositive patients</text>
        <text x={454} y={726} {...titleStyle}>Seropositive patients</text>
        <text transform="translate(29.5,866.5) rotate(-90)" textAnchor="middle" dominantBaseline="central" {...titleStyle}>
          Corrected Absorbance at 450 nm
        </text>
        <text transform="translate(394,865) rotate(-90)" textAnchor="middle" dominantBaseline="central" {...titleStyle}>
          Neutralization, %
        </text>
        <text x={79} y={1066} {...titleStyle}>Seronegative patients</text>
        <text x={446} y={1066} {...titleStyle}>Seronegative patients</text>
        <text transform="translate(32.5,1198) rotate(-90)" textAnchor="middle" dominantBaseline="central" {...titleStyle}>
          Corrected Absorbance at 450 nm
        </text>
        <text transform="translate(393.3,1204) rotate(-90)" textAnchor="middle" dominantBaseline="central" {...titleStyle}>
          Neutralization, %
        </text>
      </svg>
    </div>
  );
}
